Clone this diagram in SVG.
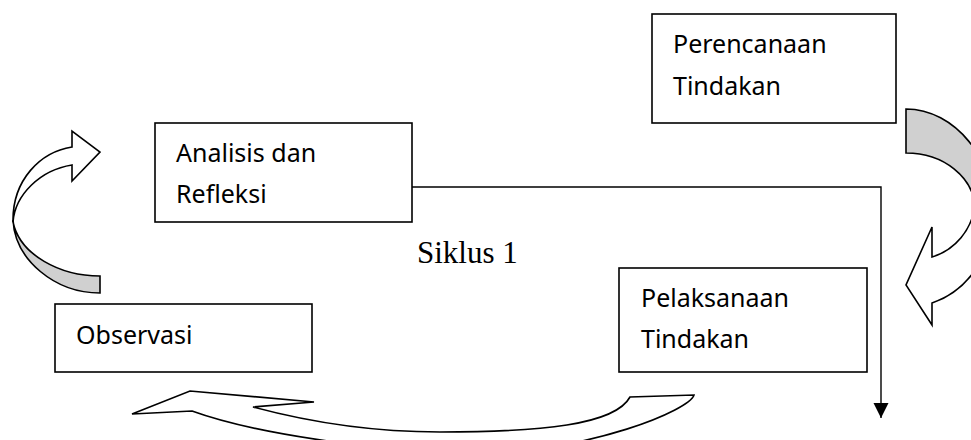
<svg xmlns="http://www.w3.org/2000/svg" width="971" height="440" viewBox="0 0 971 440">
<defs>
<style>
.box{fill:#fff;stroke:#000;stroke-width:1.6}
.lbl{font-family:"Noto Sans","Open Sans","Liberation Sans",sans-serif;font-size:25px;fill:#000}
.cyc{font-family:"Liberation Serif","Times New Roman",serif;font-size:31px;fill:#000}
.front{fill:#fff;stroke:#000;stroke-width:1.6;stroke-linejoin:miter}
.back{fill:#d0d0d0;stroke:#000;stroke-width:1.6}
.line{fill:none;stroke:#000;stroke-width:1.4}
</style>
<marker id="ah" markerWidth="16" markerHeight="16" refX="15" refY="7.5" orient="auto" markerUnits="userSpaceOnUse">
<path d="M0,0 L15,7.5 L0,15 Z" fill="#000"/>
</marker>
</defs>
<rect width="971" height="440" fill="#fff"/>
<g id="connectors">
<path class="line" d="M412,187 H881 V418" marker-end="url(#ah)"/>
<g id="arrow-left">
<path class="back" d="M13,220 C15,260 55,293 100,293 L100,276 C60,276 20,255 13,222 Z"/>
<path class="front" d="M13,220 C13,180 40,152 72,147 L72,131 L100,152 L72,181 L72,165 C40,170 15,195 13,222 Z"/>
</g>
<g id="arrow-right">
<path class="back" d="M906,109 C955,109 995,160 995,215 L975,205 C972,178 945,153 906,153 Z"/>
<path class="front" d="M975,205 C972,230 955,250 932,257 L932,227 L906,285 L932,325 L932,303 C965,292 990,260 995,215 Z"/>
</g>
<g id="arrow-bottom">
<path class="front" d="M132,414 L190,391 L314,402 L253,407 C320,425 380,432 440,432 C540,432 615,425 630,397 L694,395 C690,410 590,452 480,452 C370,452 250,432 192,411 Z"/>
</g>
</g>
<g id="perencanaan">
<rect class="box" x="652" y="14" width="244" height="109"/>
<text class="lbl" x="673" y="53">Perencanaan</text>
<text class="lbl" x="673" y="95">Tindakan</text>
</g>
<g id="analisis">
<rect class="box" x="155" y="123" width="257" height="99"/>
<text class="lbl" x="176" y="162">Analisis dan</text>
<text class="lbl" x="176" y="203">Refleksi</text>
</g>
<g id="pelaksanaan">
<rect class="box" x="619" y="268" width="248" height="104"/>
<text class="lbl" x="641" y="307">Pelaksanaan</text>
<text class="lbl" x="641" y="348">Tindakan</text>
</g>
<g id="observasi">
<rect class="box" x="55" y="304" width="257" height="68"/>
<text class="lbl" x="76" y="344">Observasi</text>
</g>
<g id="siklus">
<text class="cyc" x="417" y="263">Siklus 1</text>
</g>
</svg>
